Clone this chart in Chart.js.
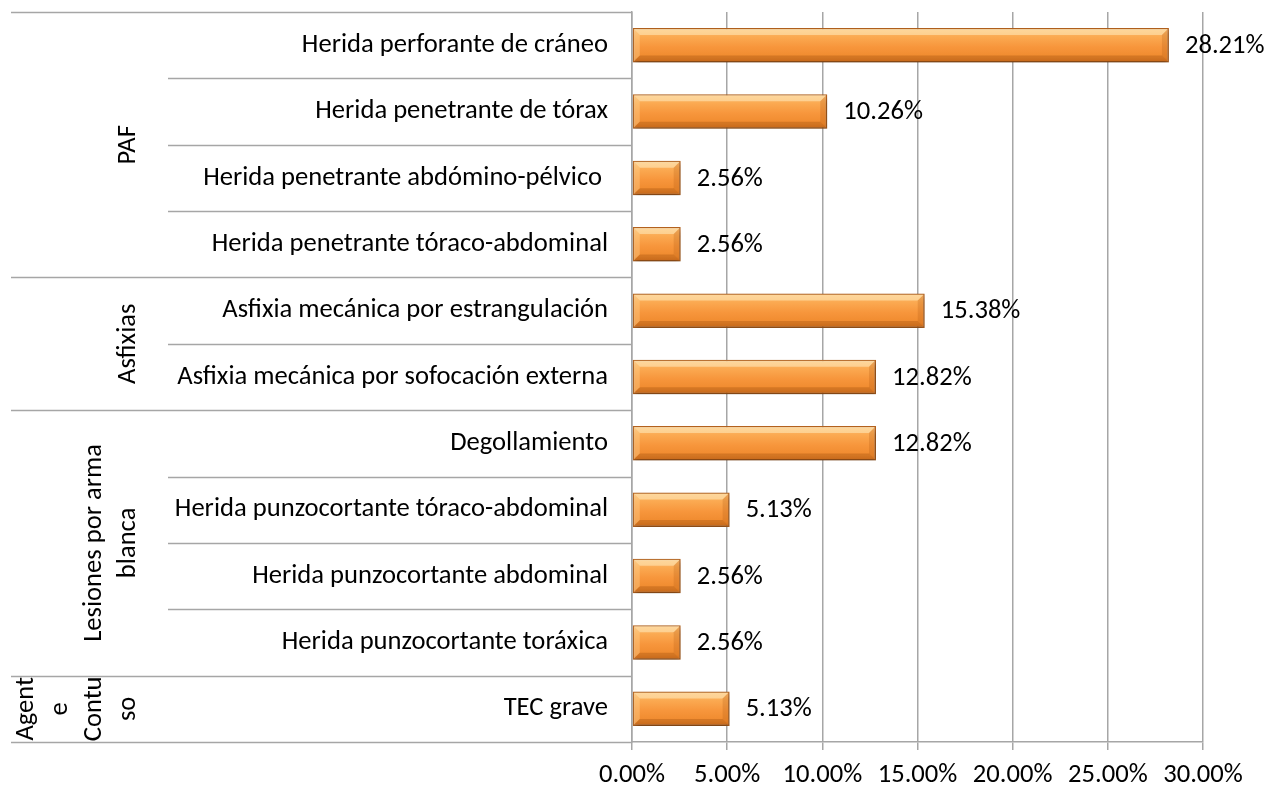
<!DOCTYPE html>
<html>
<head>
<meta charset="utf-8">
<script src="https://cdn.jsdelivr.net/npm/chart.js@4/dist/chart.umd.min.js"></script>
<style>
  html, body { margin: 0; padding: 0; background: #fff; }
  #wrap { width: 1279px; height: 791px; }
</style>
</head>
<body>
<div id="wrap"><canvas id="lesionesChart"></canvas></div>
<script>
// Datos
var categories = [
    'Herida perforante de cráneo',
    'Herida penetrante de tórax',
    'Herida penetrante abdómino-pélvico ',
    'Herida penetrante tóraco-abdominal',
    'Asfixia mecánica por estrangulación',
    'Asfixia mecánica por sofocación externa',
    'Degollamiento',
    'Herida punzocortante tóraco-abdominal',
    'Herida punzocortante abdominal',
    'Herida punzocortante toráxica',
    'TEC grave'
];
var percentages = [28.21, 10.26, 2.56, 2.56, 15.38, 12.82, 12.82, 5.13, 2.56, 2.56, 5.13];
// grupos: etiqueta (lineas), primer y ultimo indice
var groupLabels = [['PAF'], ['Asfixias'], ['Lesiones por arma', 'blanca'], ['Agent', 'e', 'Contu', 'so']];
var groupStart = [0, 4, 6, 10];
var groupEnd = [3, 5, 9, 10];
var xTicks = [0, 5, 10, 15, 20, 25, 30];

var FONT = "Carlito, Calibri, Lato, 'Noto Sans', sans-serif";
var FONT_SIZE = 26.6;
var LINE_COLOR = '#a6a6a6';
var BAR_PCT = 0.52;

// Lineas separadoras y etiquetas de grupo a la izquierda
var groupAxisPlugin = {
    id: 'groupAxis',
    afterDraw: function (chart) {
        var ctx = chart.ctx;
        var y = chart.scales.y;
        var area = chart.chartArea;
        var bound = function (i) { return y.getPixelForValue(i - 0.5); };
        ctx.save();
        ctx.strokeStyle = LINE_COLOR;
        ctx.lineWidth = 1.5;
        for (var i = 0; i <= categories.length; i++) {
            var isGroupEdge = i === categories.length || groupStart.indexOf(i) >= 0;
            var py = Math.round(bound(i)) + 0.5;
            ctx.beginPath();
            ctx.moveTo(isGroupEdge ? 11 : 168, py);
            ctx.lineTo(area.left, py);
            ctx.stroke();
        }
        ctx.fillStyle = '#000';
        ctx.font = FONT_SIZE + 'px ' + FONT;
        ctx.textAlign = 'center';
        ctx.textBaseline = 'middle';
        groupLabels.forEach(function (lines, g) {
            var cy = (bound(groupStart[g]) + bound(groupEnd[g] + 1)) / 2;
            var lastX = 128;
            lines.forEach(function (txt, k) {
                var cx = lastX - (lines.length - 1 - k) * 34;
                ctx.save();
                ctx.translate(cx, cy);
                ctx.rotate(-Math.PI / 2);
                ctx.fillText(txt, 0, 0);
                ctx.restore();
            });
        });
        ctx.restore();
    }
};

// Sombra bajo las barras
var barShadowPlugin = {
    id: 'barShadow',
    beforeDatasetsDraw: function (chart) {
        var ctx = chart.ctx;
        ctx.save();
        ctx.shadowColor = 'rgba(0, 0, 0, 0.35)';
        ctx.shadowBlur = 5;
        ctx.shadowOffsetX = 1;
        ctx.shadowOffsetY = 3;
    },
    afterDatasetsDraw: function (chart) {
        chart.ctx.restore();
    }
};

// Biselado de las barras
var bevelPlugin = {
    id: 'bevel',
    afterDatasetsDraw: function (chart) {
        var ctx = chart.ctx;
        var meta = chart.getDatasetMeta(0);
        ctx.save();
        meta.data.forEach(function (bar) {
            var x0 = bar.base + 1, x1 = bar.x - 1;
            var y0 = bar.y - bar.height / 2 + 1, y1 = bar.y + bar.height / 2 - 1;
            var b = Math.min(6, (x1 - x0) / 3);
            // banda superior clara
            ctx.fillStyle = 'rgba(255, 235, 190, 0.55)';
            ctx.beginPath();
            ctx.moveTo(x0, y0); ctx.lineTo(x1, y0); ctx.lineTo(x1 - b, y0 + b); ctx.lineTo(x0 + b, y0 + b);
            ctx.closePath(); ctx.fill();
            // lado izquierdo
            ctx.fillStyle = 'rgba(255, 220, 160, 0.35)';
            ctx.beginPath();
            ctx.moveTo(x0, y0); ctx.lineTo(x0 + b, y0 + b); ctx.lineTo(x0 + b, y1 - b); ctx.lineTo(x0, y1);
            ctx.closePath(); ctx.fill();
            // lado derecho
            ctx.fillStyle = 'rgba(180, 90, 20, 0.25)';
            ctx.beginPath();
            ctx.moveTo(x1, y0); ctx.lineTo(x1 - b, y0 + b); ctx.lineTo(x1 - b, y1 - b); ctx.lineTo(x1, y1);
            ctx.closePath(); ctx.fill();
            // banda inferior oscura
            ctx.fillStyle = 'rgba(160, 80, 15, 0.35)';
            ctx.beginPath();
            ctx.moveTo(x0, y1); ctx.lineTo(x1, y1); ctx.lineTo(x1 - b, y1 - b); ctx.lineTo(x0 + b, y1 - b);
            ctx.closePath(); ctx.fill();
        });
        ctx.restore();
    }
};

// Etiquetas de valor al final de cada barra
var valueLabelPlugin = {
    id: 'valueLabels',
    afterDatasetsDraw: function (chart) {
        var ctx = chart.ctx;
        var meta = chart.getDatasetMeta(0);
        ctx.save();
        ctx.fillStyle = '#000';
        ctx.font = FONT_SIZE + 'px ' + FONT;
        ctx.textAlign = 'left';
        ctx.textBaseline = 'middle';
        meta.data.forEach(function (bar, i) {
            ctx.fillText(percentages[i].toFixed(2) + '%', bar.x + 16, bar.y + 1);
        });
        ctx.restore();
    }
};

var barGradient = function (context) {
    var chart = context.chart;
    var yScale = chart.scales.y;
    if (!chart.chartArea || !yScale) return '#f7963c';
    var cy = yScale.getPixelForValue(context.dataIndex);
    var h = yScale.height / categories.length * BAR_PCT;
    if (!isFinite(cy) || !isFinite(h)) return '#f7963c';
    var g = chart.ctx.createLinearGradient(0, cy - h / 2, 0, cy + h / 2);
    g.addColorStop(0, '#fcc27a');
    g.addColorStop(0.25, '#fbaa52');
    g.addColorStop(0.55, '#f7963c');
    g.addColorStop(0.85, '#ef8a2e');
    g.addColorStop(1, '#d8731f');
    return g;
};

var lesionesChart = new Chart(document.getElementById('lesionesChart').getContext('2d'), {
    type: 'bar',
    data: {
        labels: categories,
        datasets: [{
            label: 'Porcentaje',
            data: percentages,
            backgroundColor: barGradient,
            borderColor: '#b4621e',
            borderWidth: 1.5,
            borderSkipped: false,
            categoryPercentage: BAR_PCT,
            barPercentage: 1
        }]
    },
    options: {
        indexAxis: 'y',
        responsive: true,
        maintainAspectRatio: false,
        animation: false,
        layout: { padding: { top: 12, right: 76, left: 0, bottom: 0 } },
        plugins: {
            legend: { display: false },
            tooltip: { enabled: false }
        },
        scales: {
            x: {
                min: 0,
                max: 30,
                afterBuildTicks: function (scale) {
                    scale.ticks = xTicks.map(function (v) { return { value: v }; });
                },
                afterFit: function (scale) { scale.height = 49; },
                ticks: {
                    color: '#000',
                    font: { family: FONT, size: FONT_SIZE },
                    padding: 9,
                    maxRotation: 0,
                    callback: function (v) { return Number(v).toFixed(2) + '%'; }
                },
                grid: {
                    color: LINE_COLOR,
                    lineWidth: 1.5,
                    tickLength: 8
                },
                border: { color: LINE_COLOR, width: 1.5 }
            },
            y: {
                afterFit: function (scale) {
                    scale.width = 632;
                    scale.paddingTop = 0;
                    scale.paddingBottom = 0;
                },
                ticks: {
                    color: '#000',
                    font: { family: FONT, size: FONT_SIZE },
                    padding: 24,
                    autoSkip: false
                },
                grid: { display: false, drawTicks: false },
                border: { color: LINE_COLOR, width: 1.5 }
            }
        }
    },
    plugins: [groupAxisPlugin, barShadowPlugin, bevelPlugin, valueLabelPlugin]
});
</script>
</body>
</html>
